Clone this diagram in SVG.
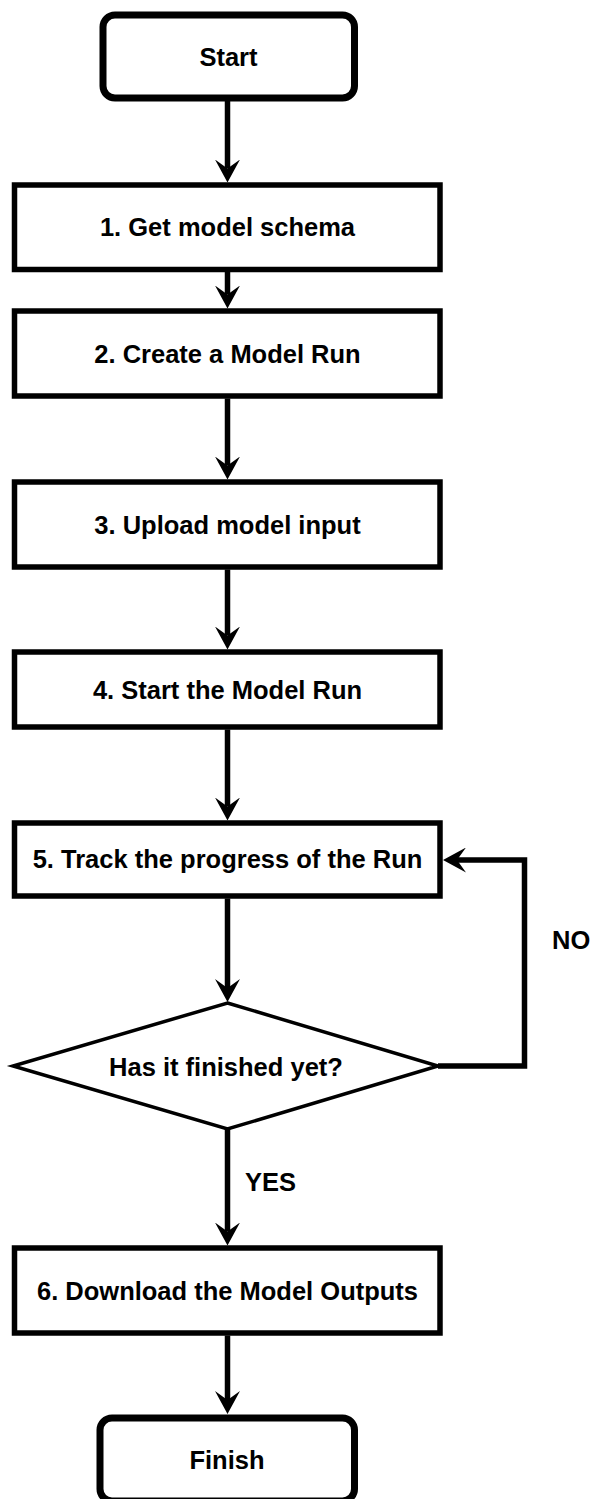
<svg xmlns="http://www.w3.org/2000/svg" width="590" height="1499" viewBox="0 0 590 1499">
<style>
.term{fill:#fff;stroke:#000;stroke-width:7}
.box{fill:#fff;stroke:#000;stroke-width:5.5}
.dia{fill:#fff;stroke:#000;stroke-width:3.5;stroke-linejoin:miter}
.lbl{font-family:"Liberation Sans",Arial,Helvetica,sans-serif;font-weight:bold;font-size:25.5px;fill:#000;text-anchor:middle;dominant-baseline:central}
.edge{fill:none;stroke:#000;stroke-width:5.5}
.elbl{font-family:"Liberation Sans",Arial,Helvetica,sans-serif;font-weight:bold;font-size:25.5px;fill:#000;dominant-baseline:central}
</style>
<defs>
<marker id="arr" viewBox="0 0 23 25" refX="9" refY="12.5" markerWidth="23" markerHeight="25" markerUnits="userSpaceOnUse" orient="auto">
<path d="M23,12.5 L0,0 L9,12.5 L0,25 Z" fill="#000"/>
</marker>
</defs>
<rect width="590" height="1499" fill="#fff"/>
<g id="connectors">
<line class="edge" x1="227.5" y1="101" x2="227.5" y2="168.5" marker-end="url(#arr)"/>
<line class="edge" x1="227.5" y1="272" x2="227.5" y2="294.5" marker-end="url(#arr)"/>
<line class="edge" x1="227.5" y1="398.5" x2="227.5" y2="465.5" marker-end="url(#arr)"/>
<line class="edge" x1="227.5" y1="569.5" x2="227.5" y2="635.5" marker-end="url(#arr)"/>
<line class="edge" x1="227.5" y1="729.5" x2="227.5" y2="806.5" marker-end="url(#arr)"/>
<line class="edge" x1="227.5" y1="898.5" x2="227.5" y2="988" marker-end="url(#arr)"/>
<line class="edge" x1="227.5" y1="1129" x2="227.5" y2="1231.5" marker-end="url(#arr)"/>
<line class="edge" x1="227.5" y1="1335.5" x2="227.5" y2="1400" marker-end="url(#arr)"/>
<path class="edge" d="M438,1066 H524.5 V860 H457" marker-end="url(#arr)"/>
<text class="elbl" x="552" y="940">NO</text>
<text class="elbl" x="245" y="1182">YES</text>
</g>
<g id="start">
<rect class="term" x="103" y="15" width="251.5" height="83" rx="12"/>
<text class="lbl" x="228.5" y="56.5">Start</text>
</g>
<g id="step1">
<rect class="box" x="14.5" y="185" width="425.5" height="84.5"/>
<text class="lbl" x="227.5" y="227">1. Get model schema</text>
</g>
<g id="step2">
<rect class="box" x="14.5" y="311" width="425.5" height="85"/>
<text class="lbl" x="227.5" y="353.5">2. Create a Model Run</text>
</g>
<g id="step3">
<rect class="box" x="14.5" y="482" width="425.5" height="85"/>
<text class="lbl" x="227.5" y="524.5">3. Upload model input</text>
</g>
<g id="step4">
<rect class="box" x="14.5" y="652" width="425.5" height="75"/>
<text class="lbl" x="227.5" y="689.5">4. Start the Model Run</text>
</g>
<g id="step5">
<rect class="box" x="14.5" y="823" width="425.5" height="73"/>
<text class="lbl" x="227.5" y="859">5. Track the progress of the Run</text>
</g>
<g id="decision">
<polygon class="dia" points="227.5,1003 438,1066 227.5,1129 13,1066"/>
<text class="lbl" x="226" y="1067">Has it finished yet?</text>
</g>
<g id="step6">
<rect class="box" x="14.5" y="1248" width="425.5" height="85"/>
<text class="lbl" x="227.5" y="1290.5">6. Download the Model Outputs</text>
</g>
<g id="finish">
<rect class="term" x="100" y="1418" width="254.5" height="83" rx="12"/>
<text class="lbl" x="227" y="1460">Finish</text>
</g>
</svg>
